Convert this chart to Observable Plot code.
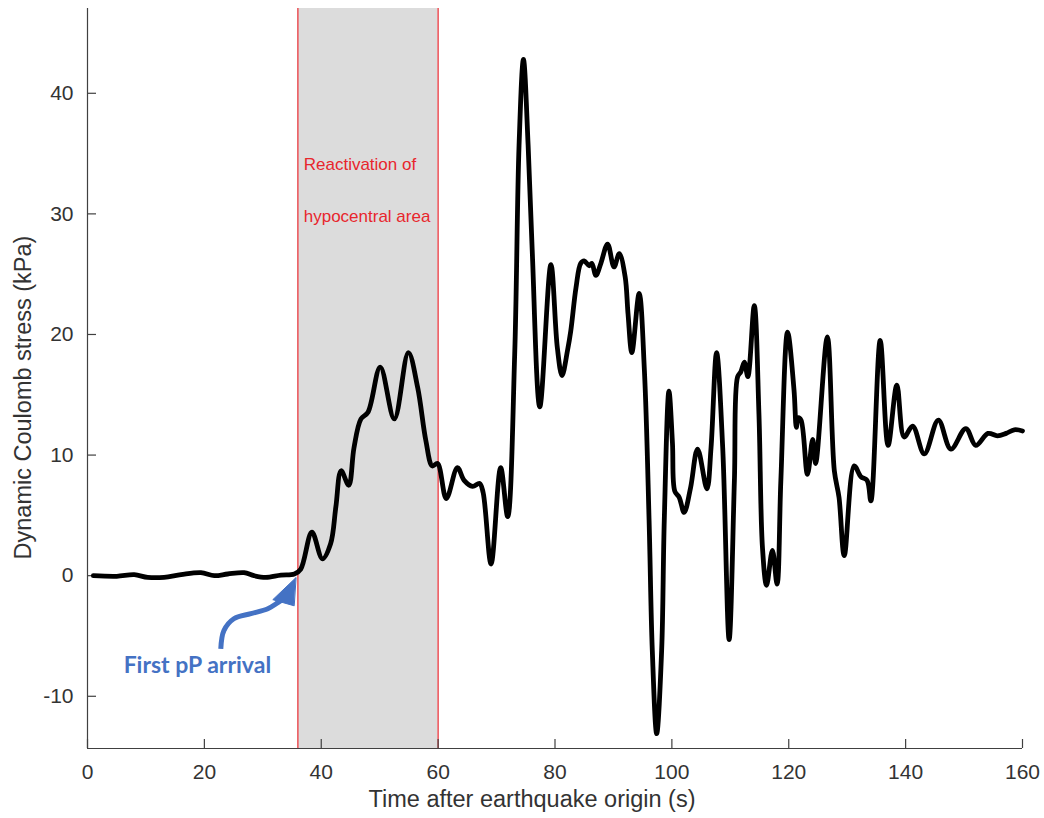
<!DOCTYPE html>
<html>
<head>
<meta charset="utf-8">
<script src="https://cdn.jsdelivr.net/npm/d3@7"></script>
<script src="https://cdn.jsdelivr.net/npm/@observablehq/plot@0.6"></script>
<style>
  html, body { margin: 0; padding: 0; background: #fff; }
</style>
</head>
<body>
<div id="chart"></div>
<script>
// ---- data ----
const times = [1.0, 5.0, 8.0, 10.3, 13.1, 16.0, 19.4, 21.7, 24.0, 26.8, 28.5, 30.5, 33.1, 35.4, 36.5,
  38.4, 40.2, 41.6, 42.5, 43.4, 44.7, 45.6, 46.8, 48.0, 50.1, 52.5, 54.9, 56.5, 57.9, 59.0, 59.9,
  61.4, 63.3, 64.45, 65.9, 67.1, 67.7, 69.06, 70.7, 71.9, 73.1, 73.85, 74.6, 75.4, 76.1, 77.4, 79.3,
  80.4, 81.2, 82.15, 82.7, 83.6, 84.4, 85.0, 85.85, 86.3, 87.0, 87.85, 89.0, 90.1, 91.0, 92.0, 92.5,
  93.15, 94.4, 95.3, 96.1, 96.65, 97.4, 98.25, 98.7, 99.5, 100.1, 100.5, 101.25, 102.1, 103.2, 104.4,
  106.0, 106.7, 107.65, 108.7, 109.8, 110.7, 111.25, 111.8, 112.4, 113.0, 114.1, 114.9, 115.5, 116.2,
  117.2, 118.0, 118.65, 119.8, 120.9, 121.3, 121.6, 122.1, 123.2, 124.1, 124.6, 126.6, 127.8, 128.6,
  129.5, 131.2, 132.35, 133.4, 134.05, 135.65, 137.0, 138.5, 139.75, 141.2, 143.2, 145.6, 147.75,
  150.3, 152.0, 154.1, 155.7, 157.2, 158.6, 160.0];
const stress = [0, -0.05, 0.08, -0.14, -0.14, 0.08, 0.25, 0, 0.14, 0.25, 0, -0.14, 0.05, 0.14, 0.55,
  3.6, 1.4, 2.65, 5.7, 8.7, 7.5, 10.6, 13.0, 13.55, 17.3, 13.0, 18.5, 15.6, 11.2, 9.1, 9.3,
  6.4, 8.96, 7.9, 7.4, 7.65, 6.9, 0.97, 8.96, 4.9, 18.3, 35.7, 42.8, 35.7, 27.0, 14.0, 25.8,
  18.9, 16.6, 18.7, 20.3, 23.9, 25.9, 26.1, 25.7, 25.9, 24.9, 25.9, 27.5, 25.6, 26.7, 24.8, 21.7,
  18.5, 23.4, 17.0, 4.6, -6.2, -13.1, -6.2, 4.6, 15.3, 11.0, 7.0, 6.5, 5.25, 7.3, 10.5,
  7.2, 10.6, 18.5, 10.6, -5.3, 7.9, 16.5, 16.9, 17.7, 16.5, 22.4, 13.4, 2.35, -0.8,
  2.1, -0.7, 7.9, 20.2, 15.4, 12.3, 13.1, 12.9, 8.4, 11.3, 9.3, 19.8, 8.7, 6.5,
  1.66, 9.1, 8.2, 7.9, 6.2, 19.5, 10.8, 15.8, 11.5, 12.4, 10.1, 12.9, 10.5,
  12.2, 10.8, 11.8, 11.6, 11.8, 12.1, 12.0];

const xTicks = [0, 20, 40, 60, 80, 100, 120, 140, 160];
const yTicks = [-10, 0, 10, 20, 30, 40];
const xDomain = [0, 160];
const yDomain = [-14.33, 47.03];

const bandStart = 36;   // first pP arrival
const bandEnd = 60;
const bandLabels = ["Reactivation of", "hypocentral area"];
const bandLabelX = [37.0, 37.0];
const bandLabelY = [34.07, 29.78];

const arrivalLabel = "First pP arrival";
const arrivalLabelX = 18.8;
const arrivalLabelY = -7.44;
const arrowShaftX = [22.81, 23.33, 25.04, 27.95, 30.86, 32.57, 33.77];
const arrowShaftY = [-6.06, -4.56, -3.57, -3.15, -2.74, -2.24, -1.83];
const arrowHeadX = [35.65, 31.71, 35.31];
const arrowHeadY = [-0.17, -1.99, -2.49];

const xLabel = "Time after earthquake origin (s)";
const yLabel = "Dynamic Coulomb stress (kPa)";

// ---- build tables ----
const series = times.map((t, i) => ({t, v: stress[i]}));
const shaft = arrowShaftX.map((x, i) => ({x, y: arrowShaftY[i]}));
const head = arrowHeadX.map((x, i) => ({x, y: arrowHeadY[i]}));
const bandText = bandLabels.map((s, i) => ({s, x: bandLabelX[i], y: bandLabelY[i]}));

const W = 1044, H = 818;
const mL = 87, mR = 22, mT = 8, mB = 70;
const innerW = W - mL - mR, innerH = H - mT - mB;
const axisColor = "#404040";
const blue = "#4472c4";
const red = "#e8262d";

const chart = Plot.plot({
  width: W, height: H,
  marginLeft: mL, marginRight: mR, marginTop: mT, marginBottom: mB,
  style: {fontFamily: "'Liberation Sans', Arial, Helvetica, sans-serif", fontSize: "21px", color: "#333", background: "#fff"},
  x: {domain: xDomain},
  y: {domain: yDomain},
  marks: [
    Plot.rect([{x1: bandStart, x2: bandEnd}], {x1: "x1", x2: "x2", fill: "#dcdcdc"}),
    Plot.ruleX([bandStart, bandEnd], {stroke: "#ec5a5f", strokeWidth: 1.6}),
    Plot.text(bandText, {x: "x", y: "y", text: "s", textAnchor: "start", fill: red, fontSize: 17}),
    // axes
    Plot.ruleX([xDomain[0]], {stroke: axisColor, strokeWidth: 1.2}),
    Plot.ruleY([yDomain[0]], {stroke: axisColor, strokeWidth: 1.2}),
    Plot.tickX(xTicks, {x: d => d, insetTop: innerH - 9, stroke: axisColor, strokeWidth: 1.2}),
    Plot.tickY(yTicks, {y: d => d, insetRight: innerW - 9, stroke: axisColor, strokeWidth: 1.2}),
    Plot.axisX({ticks: xTicks, tickSize: 0, tickPadding: 16, tickFormat: d => String(d), label: null}),
    Plot.axisY({ticks: yTicks, tickSize: 0, tickPadding: 14, tickFormat: d => String(d), label: null}),
    Plot.text([xLabel], {frameAnchor: "bottom", lineAnchor: "top", dy: 42, dx: -23, fontSize: 23.5, fill: "#333"}),
    Plot.text([yLabel], {frameAnchor: "left", textAnchor: "middle", lineAnchor: "middle", rotate: -90, dx: -64, dy: 19, fontSize: 23.5, fill: "#333"}),
    // data
    Plot.line(series, {x: "t", y: "v", curve: "catmull-rom", stroke: "#000", strokeWidth: 4.8, strokeLinejoin: "round", strokeLinecap: "round"}),
    // annotation
    Plot.line(shaft, {x: "x", y: "y", curve: "catmull-rom", stroke: blue, strokeWidth: 5, strokeLinecap: "butt"}),
    Plot.line(head, {x: "x", y: "y", curve: "linear-closed", stroke: blue, fill: blue, strokeWidth: 1, strokeLinejoin: "round"}),
    Plot.text([arrivalLabel], {x: () => arrivalLabelX, y: () => arrivalLabelY, fill: blue, fontSize: 23, fontWeight: "bold", fontFamily: "Lato, 'Open Sans', sans-serif"})
  ]
});
document.getElementById("chart").appendChild(chart);
</script>
</body>
</html>
